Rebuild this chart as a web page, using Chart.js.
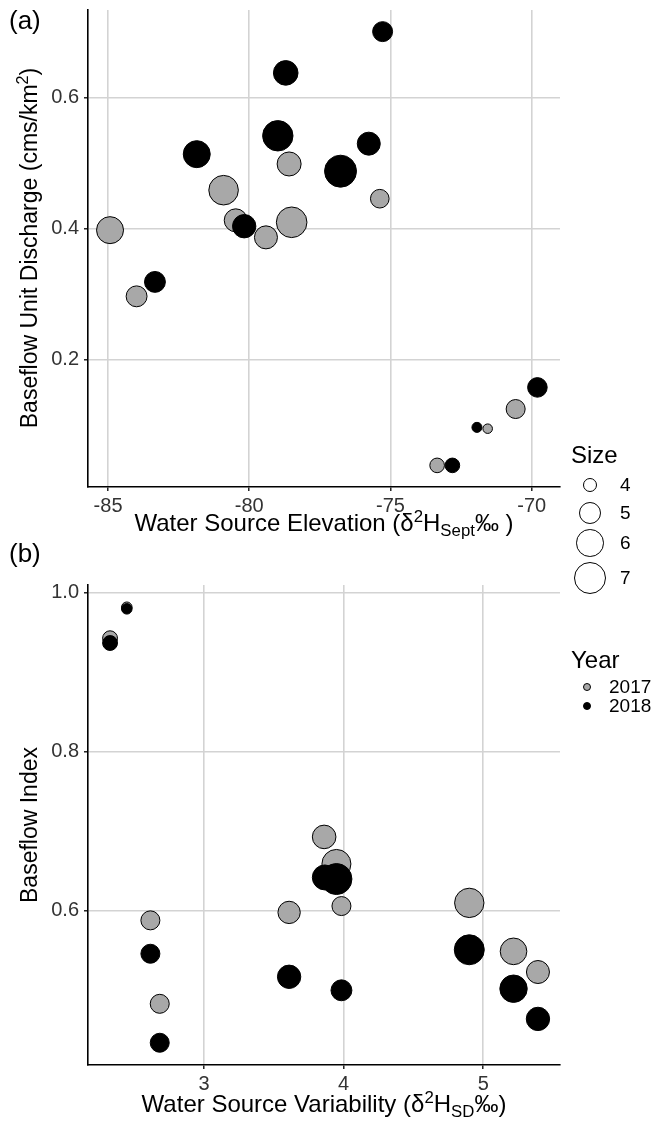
<!DOCTYPE html>
<html>
<head>
<meta charset="utf-8">
<script src="https://cdn.jsdelivr.net/npm/chart.js@4.4.0/dist/chart.umd.min.js"></script>
<style>
html,body{margin:0;padding:0;background:#fff;}
body{width:657px;height:1134px;position:relative;overflow:hidden;font-family:"Liberation Sans",Arial,Helvetica,sans-serif;color:#000;}
canvas{position:absolute;left:0;}
.t{position:absolute;white-space:nowrap;line-height:1;}
.sup{font-size:0.7em;position:relative;top:-0.55em;}
.sub{font-size:0.7em;position:relative;top:0.3em;}
.rot{transform:translate(-50%,-50%) rotate(-90deg);}
.ctr{transform:translate(-50%,-50%);}
.circ{position:absolute;border:1px solid #000;border-radius:50%;box-sizing:border-box;background:#fff;}
</style>
</head>
<body>
<canvas id="ca" width="657" height="545" style="top:0;width:657px;height:545px;"></canvas>
<canvas id="cb" width="657" height="589" style="top:545px;width:657px;height:589px;"></canvas>

<div class="t" style="left:9px;top:7px;font-size:26px;">(a)</div>
<div class="t" style="left:9px;top:540px;font-size:26px;">(b)</div>
<div class="t rot" style="left:29px;top:248px;font-size:23px;">Baseflow Unit Discharge (cms/km<span class="sup">2</span>)</div>
<div class="t rot" style="left:29px;top:825px;font-size:23px;">Baseflow Index</div>
<div class="t ctr" style="left:324px;top:523px;font-size:24px;">Water Source Elevation (δ<span class="sup">2</span>H<span class="sub">Sept</span>‰ )</div>
<div class="t ctr" style="left:324px;top:1104px;font-size:24px;">Water Source Variability (δ<span class="sup">2</span>H<span class="sub">SD</span>‰)</div>
<div id="legend"></div>

<script>
// ---------------- data ----------------
const years = ['2017', '2018'];

// Panel (a): Water Source Elevation vs Baseflow Unit Discharge
const a2017X = [-78.59, -80.91, -75.38, -80.48, -78.50, -79.41, -84.93, -83.99, -70.57, -71.56, -73.35];
const a2017Y = [0.499, 0.459, 0.446, 0.413, 0.410, 0.387, 0.398, 0.297, 0.125, 0.095, 0.039];
const a2017Size = [5.51, 6.6, 4.67, 5.34, 6.83, 5.34, 6.07, 5.0, 4.72, 3.7, 4.17];

const a2018X = [-75.28, -78.71, -78.99, -75.77, -81.86, -76.77, -80.18, -83.34, -69.80, -71.94, -72.81];
const a2018Y = [0.701, 0.638, 0.542, 0.530, 0.514, 0.488, 0.404, 0.319, 0.158, 0.097, 0.039];
const a2018Size = [4.86, 5.62, 6.78, 5.34, 6.07, 7.14, 5.4, 5.0, 4.8, 3.74, 4.17];

// Panel (b): Water Source Variability vs Baseflow Index
const b2017X = [2.326, 2.446, 2.615, 2.682, 3.609, 3.860, 3.948, 3.984, 4.90, 5.217, 5.392];
const b2017Y = [0.943, 0.982, 0.588, 0.483, 0.598, 0.693, 0.659, 0.606, 0.610, 0.549, 0.523];
const b2017Size = [4.2, 3.78, 4.72, 4.72, 5.23, 5.44, 6.48, 4.72, 6.56, 6.0, 5.34];

const b2018X = [2.326, 2.446, 2.615, 2.682, 3.609, 3.865, 3.948, 3.984, 4.90, 5.217, 5.392];
const b2018Y = [0.937, 0.980, 0.546, 0.434, 0.517, 0.642, 0.640, 0.500, 0.551, 0.502, 0.464];
const b2018Size = [4.2, 3.78, 4.72, 4.72, 5.4, 5.69, 6.92, 5.0, 6.69, 6.15, 5.4];

// axes
const aXTicks = [-85, -80, -75, -70];
const aYTicks = [0.2, 0.4, 0.6];
const bXTicks = [3, 4, 5];
const bYTicks = [0.6, 0.8, 1.0];
const sizeLegendValues = [4, 5, 6, 7];

// ---------------- styling / helpers ----------------
const GRAY = '#a8a8a8';
const FONT = 'Liberation Sans';
// area-proportional size scale (visual radius incl. outline, px)
function sizeToRadius(s) { return Math.sqrt(Math.max(71 * s - 235, 4)); }

function pts(xs, ys, ss) {
  return xs.map((x, i) => ({ x: x, y: ys[i], r: sizeToRadius(ss[i]) - 0.5 }));
}

function axisCfg(min, max, ticks, horizontal, fmt, fitSize) {
  return {
    type: 'linear', min: min, max: max,
    afterBuildTicks: s => { s.ticks = ticks.map(v => ({ value: v })); },
    afterFit: s => {
      if (horizontal) { s.height = fitSize; } else { s.width = fitSize; }
      s.paddingLeft = 0; s.paddingRight = 0; s.paddingTop = 0; s.paddingBottom = 0;
    },
    grid: { color: '#d3d3d3', lineWidth: 1.6, tickColor: '#000', tickLength: 4, tickWidth: 1.3, drawTicks: true },
    border: { display: true, color: '#000', width: 1.6 },
    ticks: { color: '#333', font: { family: FONT, size: 20 }, padding: horizontal ? 3 : 5,
             maxRotation: 0, autoSkip: false, callback: fmt }
  };
}

function makeChart(id, dsGray, dsBlack, xr, yr, xt, yt, xfmt, yfmt, padTop, xAxisH) {
  return new Chart(document.getElementById(id), {
    type: 'bubble',
    data: {
      datasets: [
        { label: years[0], data: dsGray, backgroundColor: GRAY, borderColor: '#000', borderWidth: 1, order: 1, clip: false },
        { label: years[1], data: dsBlack, backgroundColor: '#000', borderColor: '#000', borderWidth: 1, order: 0, clip: false }
      ]
    },
    options: {
      responsive: false, animation: false, devicePixelRatio: 1, events: [],
      layout: { autoPadding: false, padding: { left: 0, right: 97, top: padTop, bottom: 0 } },
      plugins: { legend: { display: false }, tooltip: { enabled: false } },
      scales: {
        x: axisCfg(xr[0], xr[1], xt, true, xfmt, xAxisH),
        y: axisCfg(yr[0], yr[1], yt, false, yfmt, 88)
      }
    }
  });
}

makeChart('ca', pts(a2017X, a2017Y, a2017Size), pts(a2018X, a2018Y, a2018Size),
  [-85.71, -69.0], [0.006, 0.734], aXTicks, aYTicks,
  v => String(v), v => v.toFixed(1), 10, 58);

makeChart('cb', pts(b2017X, b2017Y, b2017Size), pts(b2018X, b2018Y, b2018Size),
  [2.168, 5.55], [0.406, 1.01], bXTicks, bYTicks,
  v => String(v), v => v.toFixed(1), 40, 69);

// ---------------- legend (HTML) ----------------
(function () {
  const L = document.getElementById('legend');
  let h = '';
  h += '<div class="t" style="left:571px;top:443px;font-size:24px;">Size</div>';
  const rowY = [485, 513, 543, 578];
  sizeLegendValues.forEach((s, i) => {
    const r = sizeToRadius(s);
    h += '<div class="circ" style="left:' + (590 - r) + 'px;top:' + (rowY[i] - r) + 'px;width:' + (2 * r) + 'px;height:' + (2 * r) + 'px;"></div>';
    h += '<div class="t" style="left:620px;top:' + (rowY[i] - 10) + 'px;font-size:19px;">' + s + '</div>';
  });
  h += '<div class="t" style="left:571px;top:648px;font-size:24px;">Year</div>';
  const yY = [687, 706];
  const fills = [GRAY, '#000'];
  years.forEach((y, i) => {
    h += '<div class="circ" style="left:583px;top:' + (yY[i] - 4) + 'px;width:8px;height:8px;background:' + fills[i] + ';"></div>';
    h += '<div class="t" style="left:609px;top:' + (yY[i] - 10) + 'px;font-size:19px;">' + y + '</div>';
  });
  L.innerHTML = h;
})();
</script>
</body>
</html>
